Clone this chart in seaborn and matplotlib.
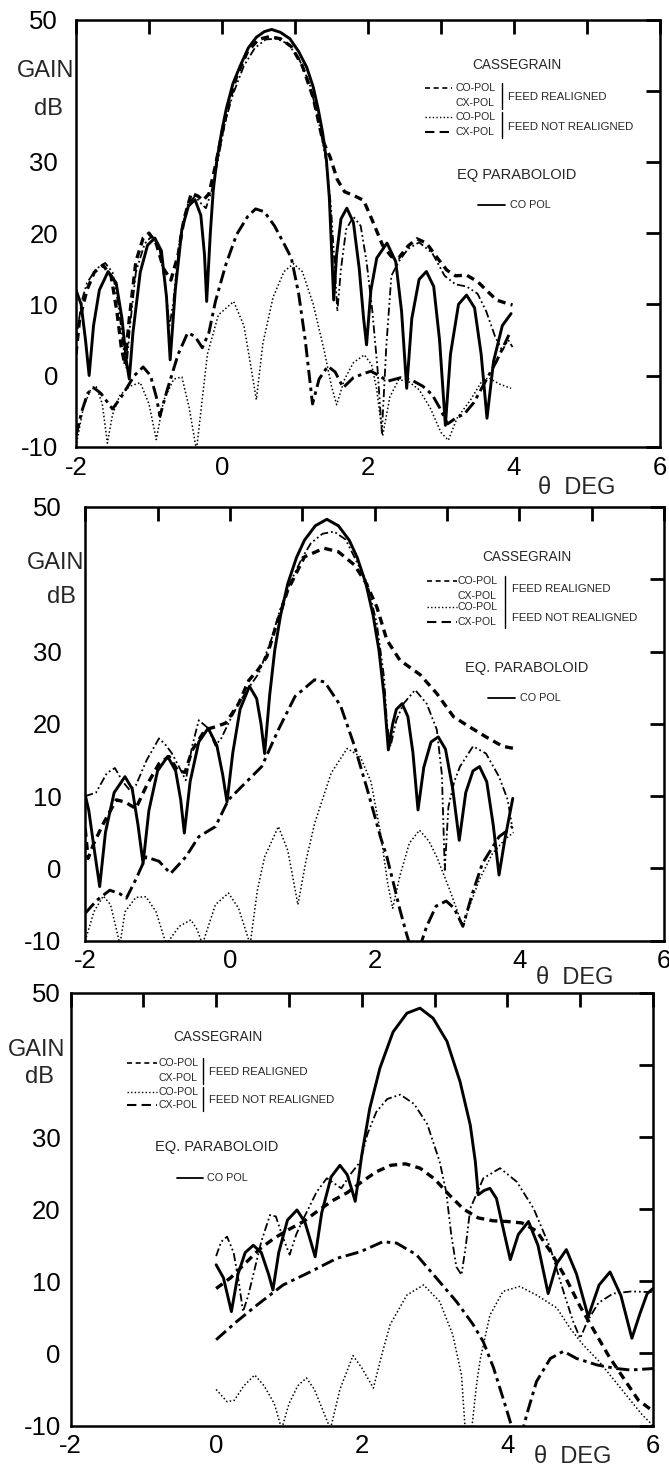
import numpy as np
import matplotlib
matplotlib.use("Agg")
import matplotlib.pyplot as plt
from matplotlib.lines import Line2D
import seaborn as sns

sns.set_theme(style="white")
plt.rcParams["font.family"] = ["Liberation Sans", "DejaVu Sans"]

W, H = 669, 1468

# ---------------- gain patterns (theta in deg, gain in dB) ----------------
# Panel 1
P1_EQ_CO = [(-2.0, 12), (-1.93, 10), (-1.87, 5), (-1.82, 0), (-1.76, 7), (-1.68, 12), (-1.56, 14.6),
            (-1.45, 13), (-1.37, 8), (-1.31, 2), (-1.27, -0.5), (-1.22, 6), (-1.12, 14.5), (-1.02, 18.3),
            (-0.92, 19.3), (-0.83, 17.5), (-0.76, 11), (-0.71, 2.2), (-0.64, 12), (-0.55, 20.5),
            (-0.46, 23.8), (-0.37, 24.7), (-0.29, 22.5), (-0.24, 17), (-0.21, 10.4), (-0.16, 20),
            (-0.12, 26), (-0.07, 30.3), (0.0, 34.5), (0.06, 37.5), (0.15, 41), (0.25, 43.5), (0.36, 46),
            (0.47, 47.5), (0.58, 48.3), (0.68, 48.6), (0.8, 48.2), (0.93, 47.3), (1.05, 45.5),
            (1.16, 43.3), (1.25, 40.5), (1.32, 37.3), (1.38, 34), (1.43, 30.3), (1.47, 25), (1.5, 18),
            (1.53, 10.6), (1.57, 17), (1.63, 22), (1.71, 23.5), (1.8, 21.5), (1.88, 15), (1.94, 8),
            (1.98, 4.3), (2.04, 12), (2.12, 16.5), (2.26, 18.6), (2.38, 16), (2.46, 9), (2.53, -1.8),
            (2.6, 8), (2.7, 13.5), (2.8, 14.6), (2.9, 12.5), (2.98, 5), (3.06, -7.0), (3.13, 3),
            (3.24, 10), (3.35, 11.3), (3.46, 9.5), (3.55, 3), (3.63, -6.0), (3.72, 2), (3.84, 7),
            (3.96, 8.7)]
P1_CO_REAL = [(-2.0, 3), (-1.95, 8), (-1.85, 12), (-1.75, 14.5), (-1.63, 15.5), (-1.52, 14), (-1.44, 9),
              (-1.38, 4), (-1.33, 1.5), (-1.27, 8), (-1.18, 16), (-1.08, 19.3), (-1.0, 20), (-0.9, 18.5),
              (-0.8, 15), (-0.7, 13.4), (-0.6, 17), (-0.52, 22), (-0.42, 25.6), (-0.33, 25.2),
              (-0.26, 24.6), (-0.18, 25.5), (-0.1, 29), (0.0, 34), (0.1, 38.5), (0.2, 42), (0.35, 45.5),
              (0.5, 47.2), (0.65, 47.6), (0.8, 47.3), (0.95, 46.2), (1.1, 43.5), (1.25, 39), (1.38, 33),
              (1.48, 30.7), (1.58, 27.5), (1.68, 25.8), (1.8, 25.3), (1.94, 24.6), (2.05, 22),
              (2.2, 18.3), (2.32, 16.7), (2.42, 16.5), (2.55, 18.2), (2.67, 19.2), (2.8, 18.6),
              (2.95, 16.5), (3.08, 14.8), (3.2, 14.0), (3.35, 14.1), (3.5, 13.2), (3.62, 12.0),
              (3.76, 10.6), (3.88, 10.2), (3.98, 9.9)]
P1_CO_NREAL = [(-2.0, 5), (-1.92, 10.5), (-1.85, 13), (-1.72, 15), (-1.6, 15.8), (-1.5, 14.5), (-1.42, 10),
               (-1.35, 4), (-1.31, 1), (-1.26, 7), (-1.18, 14.5), (-1.06, 18.5), (-0.96, 19.6),
               (-0.86, 18), (-0.78, 13), (-0.72, 7), (-0.67, 10), (-0.58, 19), (-0.47, 24), (-0.37, 25.2),
               (-0.29, 24.2), (-0.22, 23.5), (-0.14, 26), (-0.06, 30), (0.04, 35.5), (0.15, 39.5),
               (0.3, 43.5), (0.45, 46), (0.6, 47.2), (0.75, 47.3), (0.9, 46.6), (1.05, 44.6), (1.2, 41),
               (1.32, 36), (1.42, 30.5), (1.49, 24), (1.54, 16), (1.58, 9), (1.63, 15), (1.7, 20.5),
               (1.8, 22.3), (1.9, 21), (1.98, 16), (2.06, 9), (2.13, 1), (2.19, -8), (2.25, 4),
               (2.32, 14), (2.42, 16), (2.55, 17.8), (2.7, 18.7), (2.88, 17.2), (3.05, 14), (3.2, 12.8),
               (3.35, 12.5), (3.5, 11.5), (3.62, 9), (3.74, 5.5), (3.84, 3.5), (3.92, 5), (3.98, 4)]
P1_CX_REAL = [(-2.0, -8.5), (-1.92, -5), (-1.84, -2.5), (-1.76, -1.7), (-1.66, -2.5), (-1.5, -4.7),
              (-1.38, -3), (-1.2, 0), (-1.08, 1.2), (-0.98, 0), (-0.9, -3), (-0.85, -5.7), (-0.75, -2),
              (-0.6, 3), (-0.47, 6), (-0.37, 5.5), (-0.27, 3.9), (-0.18, 6), (-0.09, 10.4), (0.05, 15.5),
              (0.2, 19.8), (0.35, 22.3), (0.46, 23.4), (0.58, 23), (0.72, 21), (0.85, 18.5), (0.95, 16.5),
              (1.05, 11.5), (1.14, 5), (1.24, -4), (1.33, -0.5), (1.45, 1.3), (1.55, 0.5), (1.66, -1.7),
              (1.8, -0.3), (1.95, 0.3), (2.04, 0.6), (2.15, 0), (2.27, -0.8), (2.45, -0.3), (2.59, -0.6),
              (2.75, -1.5), (2.88, -2.7), (2.98, -4.5), (3.09, -6.8), (3.2, -6), (3.32, -5.4),
              (3.45, -3.8), (3.61, -0.8), (3.76, 2), (3.93, 5.7)]
P1_CX_NREAL = [(-2.0, -10), (-1.9, -4.5), (-1.8, -2), (-1.72, -1.6), (-1.64, -4), (-1.57, -9.5),
               (-1.5, -5.5), (-1.4, -2.8), (-1.26, -1.5), (-1.12, -1), (-1.0, -4), (-0.9, -9),
               (-0.8, -3.5), (-0.66, -0.5), (-0.55, -0.2), (-0.45, -4.5), (-0.35, -10.5), (-0.2, 3),
               (-0.05, 8.5), (0.16, 10.4), (0.3, 7), (0.4, 1), (0.47, -3.4), (0.56, 4.5), (0.7, 11),
               (0.85, 14.6), (0.98, 15.7), (1.1, 14.6), (1.25, 10), (1.4, 3.5), (1.5, -1.5),
               (1.57, -4.1), (1.68, -0.5), (1.8, 1.8), (1.95, 2.9), (2.05, 1.5), (2.12, -2), (2.2, -8.5),
               (2.3, -3), (2.42, -0.6), (2.55, -0.8), (2.7, -2), (2.85, -4.5), (3.0, -8), (3.1, -9.1),
               (3.22, -6), (3.4, -3.5), (3.56, -0.8), (3.65, -0.3), (3.8, -1.2), (3.96, -1.8)]

# Panel 2
P2_EQ_CO = [(-2.0, 10.2), (-1.95, 8), (-1.88, 3), (-1.8, -2.5), (-1.72, 5), (-1.6, 10.5), (-1.45, 12.7),
            (-1.35, 11), (-1.27, 6), (-1.2, 0.7), (-1.12, 8), (-1.0, 13.5), (-0.86, 15.5), (-0.75, 13.5),
            (-0.68, 9.5), (-0.63, 4.9), (-0.55, 12), (-0.43, 17.5), (-0.3, 19.4), (-0.18, 17),
            (-0.1, 13), (-0.04, 9.2), (0.04, 16), (0.14, 22), (0.27, 25.2), (0.37, 23.5), (0.43, 20),
            (0.48, 15.9), (0.55, 24), (0.62, 30.2), (0.7, 35), (0.8, 39.4), (0.92, 43), (1.03, 45.4),
            (1.18, 47.4), (1.34, 48.3), (1.5, 47.4), (1.65, 45.4), (1.76, 43), (1.88, 39.4), (1.98, 35),
            (2.06, 30.2), (2.13, 24), (2.19, 16.4), (2.25, 20), (2.3, 22), (2.38, 22.8), (2.46, 21),
            (2.53, 16), (2.6, 8.1), (2.68, 14), (2.78, 17.5), (2.88, 18.2), (2.98, 16.5), (3.08, 11),
            (3.17, 3.9), (3.26, 10.5), (3.36, 13.5), (3.45, 14.1), (3.55, 12), (3.64, 6), (3.72, -0.9),
            (3.8, 4), (3.91, 9.7)]
P2_CO_REAL = [(-2.0, 5.5), (-1.96, 1.4), (-1.88, 3.5), (-1.75, 6.2), (-1.57, 9.5), (-1.45, 9.2),
              (-1.3, 8.3), (-1.15, 11.5), (-0.98, 14.5), (-0.84, 15.5), (-0.72, 13.5), (-0.62, 13.3),
              (-0.52, 16.4), (-0.34, 19.2), (-0.2, 19.6), (-0.06, 20.1), (0.12, 22.8), (0.26, 26),
              (0.39, 27.5), (0.51, 29.3), (0.62, 33), (0.8, 38.5), (1.03, 43.1), (1.3, 44.3), (1.5, 43.8),
              (1.72, 42), (1.88, 39.5), (2.03, 36.2), (2.17, 31.6), (2.35, 28.8), (2.63, 26.8),
              (2.86, 24.2), (3.09, 21), (3.31, 19.6), (3.54, 18.2), (3.77, 16.9), (3.93, 16.6)]
P2_CO_NREAL = [(-2.0, 10), (-1.85, 10.5), (-1.7, 13.2), (-1.59, 13.9), (-1.48, 12), (-1.39, 10.9),
               (-1.3, 11.5), (-1.15, 15), (-0.98, 18), (-0.88, 17), (-0.8, 15.9), (-0.7, 14), (-0.61, 12.2),
               (-0.52, 17), (-0.43, 20.5), (-0.3, 19.4), (-0.2, 17), (-0.12, 18), (0.0, 20.5),
               (0.12, 22.8), (0.26, 25), (0.4, 27), (0.57, 31.6), (0.7, 36), (0.85, 39.9), (1.0, 43),
               (1.12, 45), (1.28, 46.3), (1.44, 46.6), (1.6, 45.5), (1.72, 43.1), (1.9, 39.4),
               (2.03, 33.9), (2.13, 26.5), (2.17, 20.1), (2.22, 16.9), (2.3, 20.5), (2.4, 22.8),
               (2.56, 24.7), (2.72, 22.8), (2.86, 19.2), (2.93, 13), (2.97, -0.2), (3.02, 8.5), (3.1, 12),
               (3.18, 14.1), (3.36, 16.9), (3.54, 15.9), (3.72, 12.7), (3.84, 9.5), (3.9, 5.8)]
P2_CX_REAL = [(-2.0, -6.2), (-1.84, -4.4), (-1.66, -3), (-1.52, -3.5), (-1.43, -4.1), (-1.3, -1.5),
              (-1.16, 1.6), (-0.98, 1), (-0.82, -0.7), (-0.61, 1.6), (-0.43, 4.4), (-0.2, 5.8),
              (-0.02, 9.5), (0.21, 11.8), (0.44, 14.1), (0.67, 19.2), (0.9, 23.8), (1.17, 26.1),
              (1.31, 25.8), (1.53, 22.5), (1.72, 17), (1.9, 10.9), (2.08, 4.4), (2.17, 1.6), (2.26, -2),
              (2.35, -5.7), (2.44, -9), (2.5, -11), (2.62, -11), (2.72, -8), (2.85, -5.2), (2.99, -4.5),
              (3.1, -5.5), (3.22, -8), (3.35, -3.5), (3.49, 0.7), (3.72, 4.4), (3.91, 5.8)]
P2_CX_NREAL = [(-2.0, -10), (-1.88, -6), (-1.75, -3.8), (-1.65, -5), (-1.52, -10.5), (-1.45, -6),
               (-1.3, -4), (-1.16, -3.9), (-1.02, -6), (-0.88, -10.5), (-0.7, -8), (-0.54, -7.1),
               (-0.45, -8.5), (-0.38, -10.5), (-0.2, -5), (-0.02, -3.4), (0.12, -5.5), (0.28, -10.5),
               (0.38, -3), (0.48, 1.6), (0.67, 5.8), (0.8, 2.5), (0.94, -5), (1.05, 1), (1.17, 6.2),
               (1.4, 13.2), (1.62, 16.6), (1.8, 15.5), (1.95, 12), (2.08, 5), (2.18, -2), (2.25, -5.5),
               (2.35, -1), (2.48, 3.5), (2.62, 5.3), (2.75, 3.8), (2.86, 1.6), (3.04, -3), (3.22, -8),
               (3.32, -5), (3.45, -1.5), (3.63, 2.1), (3.8, 4), (3.92, 5)]

# Panel 3
P3_EQ_CO = [(0.0, 12.3), (0.1, 10.5), (0.21, 5.8), (0.3, 11), (0.4, 14), (0.51, 15), (0.62, 14),
            (0.72, 11), (0.78, 8.8), (0.86, 14), (0.98, 18.5), (1.11, 19.9), (1.22, 18.2), (1.3, 15.5),
            (1.36, 13.4), (1.45, 19.5), (1.58, 24.5), (1.7, 26.1), (1.8, 24.8), (1.87, 22.5),
            (1.91, 21.1), (1.96, 24.5), (2.0, 27.5), (2.11, 34), (2.25, 39.6), (2.43, 44.6),
            (2.62, 47.2), (2.8, 47.9), (2.98, 46.5), (3.17, 43.3), (3.35, 37.7), (3.49, 31.7),
            (3.56, 26.6), (3.6, 22), (3.68, 22.6), (3.76, 22.9), (3.85, 21.5), (3.95, 17), (4.04, 13),
            (4.15, 16.5), (4.29, 18.3), (4.42, 15), (4.56, 8.3), (4.68, 12.5), (4.81, 14.4),
            (4.95, 11), (5.11, 5.1), (5.26, 9.5), (5.41, 11.3), (5.56, 8), (5.71, 2.1), (5.82, 5.5),
            (5.92, 8.3), (6.0, 9)]
P3_CO_REAL = [(0.0, 9), (0.2, 10.5), (0.4, 12.5), (0.6, 14.5), (0.8, 16), (1.0, 17.2), (1.2, 18.3),
              (1.4, 19.8), (1.6, 21.2), (1.8, 22.3), (2.0, 23.8), (2.2, 25.2), (2.4, 26.1), (2.6, 26.3),
              (2.8, 25.7), (3.0, 24.2), (3.2, 22), (3.4, 20), (3.6, 18.8), (3.8, 18.4), (4.0, 18.3),
              (4.2, 18.1), (4.4, 17), (4.6, 14), (4.8, 10.5), (5.0, 6.5), (5.2, 3), (5.4, -0.5),
              (5.6, -3.5), (5.8, -6.5), (6.0, -8)]
P3_CO_NREAL = [(0.0, 13.5), (0.07, 15.5), (0.15, 16.2), (0.24, 14), (0.31, 10), (0.37, 5.8), (0.44, 8),
               (0.51, 10.9), (0.62, 15.5), (0.74, 19.2), (0.82, 19), (0.92, 16), (1.01, 13.7),
               (1.1, 16.5), (1.2, 18.7), (1.38, 22.4), (1.52, 24.3), (1.62, 23.6), (1.72, 22.9),
               (1.84, 24.8), (1.98, 26.6), (2.08, 30.5), (2.2, 33.5), (2.35, 35.3), (2.53, 35.9),
               (2.72, 34.6), (2.9, 31.8), (3.07, 26.6), (3.16, 22.4), (3.23, 16.4), (3.3, 12),
               (3.37, 10.9), (3.43, 15), (3.49, 20.1), (3.67, 24.3), (3.9, 25.7), (4.13, 23.8),
               (4.36, 20.1), (4.59, 14.6), (4.77, 8.6), (4.9, 4.5), (5.0, 2.1), (5.1, 4.5), (5.25, 7),
               (5.45, 8.3), (5.7, 8.6), (6.0, 8.5)]
P3_CX_REAL = [(0.0, 1.9), (0.28, 4.4), (0.56, 6.7), (0.92, 9.5), (1.29, 11.3), (1.66, 13.2), (1.98, 14.1),
              (2.29, 15.5), (2.48, 15.3), (2.75, 13.7), (3.03, 10.4), (3.3, 7.2), (3.53, 4), (3.67, 1.6),
              (3.81, -2), (3.94, -6.2), (4.04, -9.5), (4.1, -11), (4.2, -11), (4.28, -8), (4.4, -3.9),
              (4.59, -0.7), (4.77, 0.3), (4.95, -0.7), (5.23, -1.6), (5.5, -2.1), (5.69, -2.3),
              (6.0, -2.1)]
P3_CX_NREAL = [(0.0, -5), (0.15, -6.7), (0.25, -6.5), (0.38, -4.5), (0.53, -3), (0.66, -4.5), (0.8, -7),
               (0.9, -10.5), (1.0, -7), (1.12, -4.5), (1.24, -3.4), (1.35, -5), (1.47, -8), (1.57, -10.5),
               (1.7, -5), (1.88, -0.3), (2.0, -2), (2.16, -4.8), (2.28, 0), (2.39, 4), (2.62, 8.1),
               (2.85, 9.5), (3.07, 7.2), (3.25, 2.6), (3.37, -3), (3.42, -10.5), (3.51, -10.5),
               (3.58, -4), (3.63, -0.7), (3.76, 5.3), (3.94, 8.6), (4.17, 9.3), (4.4, 8.1), (4.68, 6.3),
               (4.86, 3.5), (5.04, 1.2), (5.25, -1), (5.45, -3.5), (5.65, -6), (5.85, -8.5), (6.0, -10)]

X_TICKS = [-2, -1, 0, 1, 2, 3, 4, 5, 6]
X_TICK_LABELS = ["-2", "", "0", "", "2", "", "4", "", "6"]
Y_TICKS = [-10, 0, 10, 20, 30, 40, 50]
Y_TICK_LABELS = ["-10", "0", "10", "20", "30", "", "50"]

# ---------------- line styles ----------------
STYLE = {
    "eq_co": dict(linewidth=2.1, linestyle="-"),
    "co_real": dict(linewidth=2.4, linestyle=(0, (2.4, 1.6))),
    "co_nreal": dict(linewidth=1.3, linestyle=(0, (4.5, 1.6, 1.0, 1.6, 1.0, 1.6))),
    "cx_real": dict(linewidth=2.1, linestyle=(0, (4.5, 1.6, 1.2, 1.6))),
    "cx_nreal": dict(linewidth=1.1, linestyle=(0, (1.0, 1.5))),
}

PANELS = [
    dict(curves={"co_real": P1_CO_REAL, "co_nreal": P1_CO_NREAL, "cx_real": P1_CX_REAL,
                 "cx_nreal": P1_CX_NREAL, "eq_co": P1_EQ_CO},
         box=(76, 19.5, 660, 446.7), ypad=13, xpad=7,
         gain=(46, 70.8), db=(48, 109.2), theta=(577, 488),
         legend=dict(title=(516.7, 65), line_x=(425, 452), text_x=456, rows=(88, 103, 117, 132),
                     bracket_x=502, feed_x=508, feed_y=(97, 127), eq=(457, 175, "EQ PARABOLOID"),
                     co=(478, 505, 510, 205))),
    dict(curves={"co_real": P2_CO_REAL, "co_nreal": P2_CO_NREAL, "cx_real": P2_CX_REAL,
                 "cx_nreal": P2_CX_NREAL, "eq_co": P2_EQ_CO},
         box=(85.2, 507, 664, 940.8), ypad=17, xpad=6,
         gain=(55.5, 563.4), db=(61, 596.7), theta=(575, 978),
         legend=dict(title=(526.7, 556.7), line_x=(426.7, 456.7), text_x=458,
                     rows=(580.7, 596, 607.3, 621.7), bracket_x=505, feed_x=511.7,
                     feed_y=(589.3, 618.3), eq=(465, 668.3, "EQ. PARABOLOID"),
                     co=(488, 515, 520, 698.3))),
    dict(curves={"co_real": P3_CO_REAL, "co_nreal": P3_CO_NREAL, "cx_real": P3_CX_REAL,
                 "cx_nreal": P3_CX_NREAL, "eq_co": P3_EQ_CO},
         box=(70.5, 993, 653, 1425.5), ypad=7, xpad=6,
         gain=(36.5, 1050), db=(39.5, 1076.6), theta=(573, 1457),
         legend=dict(title=(218.3, 1036.7), line_x=(126.7, 156.7), text_x=158.3,
                     rows=(1063.3, 1078.3, 1091.7, 1105), bracket_x=202.7, feed_x=209,
                     feed_y=(1071.7, 1100), eq=(155, 1146.7, "EQ. PARABOLOID"),
                     co=(176.7, 203.3, 206.7, 1178.3))),
]


def fx(px):
    return px / W


def fy(py):
    return 1 - py / H


fig = plt.figure(figsize=(W / 100, H / 100), dpi=100)
fig.patch.set_facecolor("white")

for panel in PANELS:
    x0, y0, x1, y1 = panel["box"]
    ax = fig.add_axes([fx(x0), fy(y1), (x1 - x0) / W, (y1 - y0) / H])
    ax.set_facecolor("white")

    for key, pts in panel["curves"].items():
        arr = np.array(pts, dtype=float)
        sns.lineplot(x=arr[:, 0], y=arr[:, 1], ax=ax, color="black", estimator=None,
                     sort=False, legend=False, **STYLE[key])

    ax.set_xlim(-2, 6)
    ax.set_ylim(-10, 50)
    ax.set_xticks(X_TICKS)
    ax.set_xticklabels(X_TICK_LABELS)
    ax.set_yticks(Y_TICKS)
    ax.set_yticklabels(Y_TICK_LABELS)
    ax.set_xlabel("")
    ax.set_ylabel("")
    ax.tick_params(axis="both", direction="in", length=10, width=2.0, color="black",
                   top=True, right=True, labelsize=18.5, labelcolor="black")
    ax.tick_params(axis="y", pad=panel["ypad"])
    ax.tick_params(axis="x", pad=panel["xpad"])
    for sp in ax.spines.values():
        sp.set_visible(True)
        sp.set_color("black")
        sp.set_linewidth(1.8)

    gx, gy = panel["gain"]
    fig.text(fx(gx), fy(gy), "GAIN", ha="center", va="center", fontsize=17)
    dx, dy = panel["db"]
    fig.text(fx(dx), fy(dy), "dB", ha="center", va="center", fontsize=17)
    tx, ty = panel["theta"]
    fig.text(fx(tx), fy(ty), "θ  DEG", ha="center", va="center", fontsize=17)

    # key block
    lg = panel["legend"]
    fig.text(fx(lg["title"][0]), fy(lg["title"][1]), "CASSEGRAIN", ha="center", va="center",
             fontsize=9.8)
    la, lb = lg["line_x"]
    r = lg["rows"]
    samples = [(r[0], dict(linewidth=1.2, linestyle=(0, (3, 2.2)))),
               (r[2], dict(linewidth=1.0, linestyle=(0, (1, 1.6)))),
               (r[3], dict(linewidth=1.5, linestyle=(0, (4.5, 2.5))))]
    for yy, st in samples:
        fig.add_artist(Line2D([fx(la), fx(lb)], [fy(yy), fy(yy)], transform=fig.transFigure,
                              color="black", **st))
    for yy, lab in zip(r, ["CO-POL", "CX-POL", "CO-POL", "CX-POL"]):
        fig.text(fx(lg["text_x"]), fy(yy), lab, ha="left", va="center", fontsize=7.6)
    bx = lg["bracket_x"]
    for ya, yb in [(r[0] - 5, r[1] + 6), (r[2] - 5, r[3] + 6)]:
        fig.add_artist(Line2D([fx(bx), fx(bx)], [fy(ya), fy(yb)], transform=fig.transFigure,
                              color="black", linewidth=1.0))
    fig.text(fx(lg["feed_x"]), fy(lg["feed_y"][0]), "FEED REALIGNED", ha="left", va="center",
             fontsize=8.2)
    fig.text(fx(lg["feed_x"]), fy(lg["feed_y"][1]), "FEED NOT REALIGNED", ha="left",
             va="center", fontsize=8.2)
    ex, ey, etxt = lg["eq"]
    fig.text(fx(ex), fy(ey), etxt, ha="left", va="center", fontsize=10.5)
    ca, cb, ct, cy = lg["co"]
    fig.add_artist(Line2D([fx(ca), fx(cb)], [fy(cy), fy(cy)], transform=fig.transFigure,
                          color="black", linewidth=1.3))
    fig.text(fx(ct), fy(cy), "CO POL", ha="left", va="center", fontsize=7.8)

fig.savefig("out.png", dpi=100, facecolor="white")
